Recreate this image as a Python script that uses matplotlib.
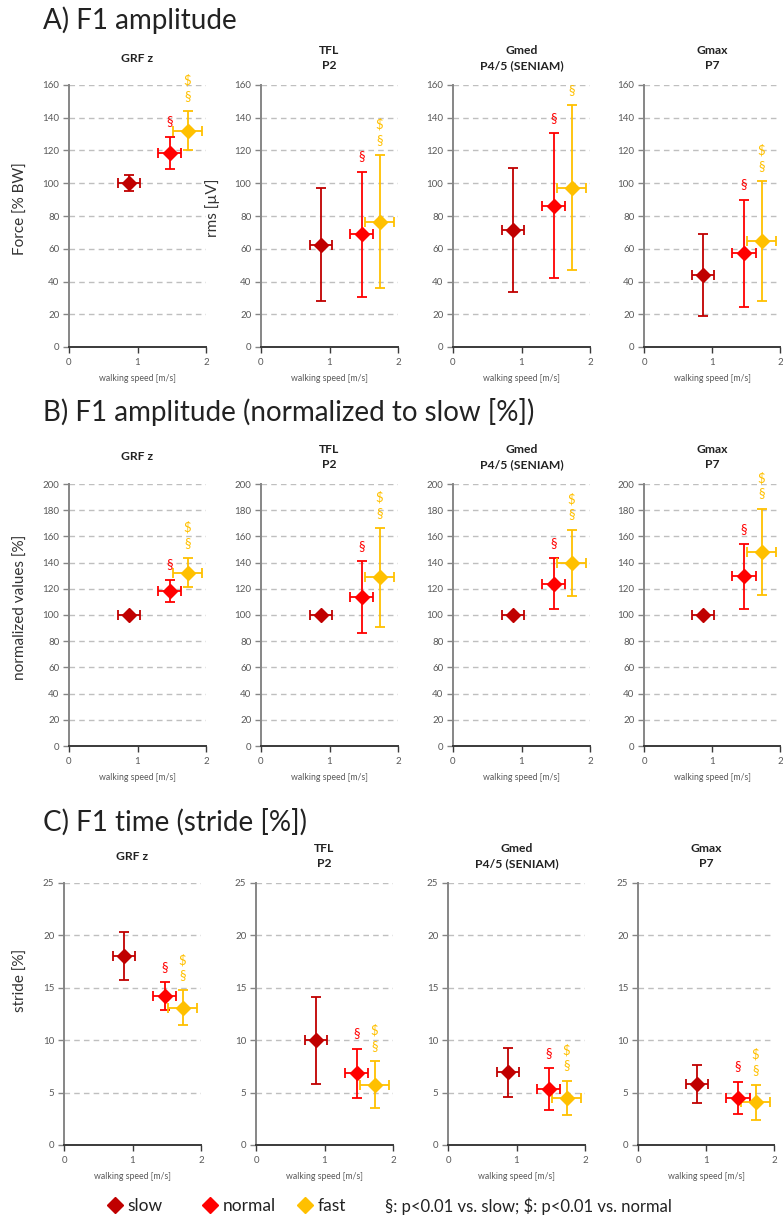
import matplotlib
matplotlib.use("Agg")
import matplotlib.pyplot as plt
from matplotlib.lines import Line2D

plt.rcParams['font.family'] = ['Lato', 'DejaVu Sans']

# walking speed per condition (same in every panel)
conditions = ["slow", "normal", "fast"]
speed = [0.87, 1.47, 1.73]
speed_sd = [0.16, 0.17, 0.21]
colors = ["#C00000", "#FF0000", "#FFC000"]

panel_titles = ["GRF z", "TFL\nP2", "Gmed\nP4/5 (SENIAM)", "Gmax\nP7"]

# A) F1 amplitude  (rows = panels, cols = slow/normal/fast)
amp_mean = [[100, 118.6, 132.0], [62.4, 68.9, 76.6], [71.3, 86.2, 97.4], [44.2, 57.1, 64.6]]
amp_sd = [[4.9, 9.9, 12.0], [34.6, 38.1, 40.5], [37.9, 44.2, 50.2], [25.0, 32.9, 36.7]]
amp_fast_sig = ["§$", "§$", "§", "§$"]

# B) F1 amplitude normalized to slow
norm_mean = [[100, 118.5, 132.2], [100, 113.4, 128.7], [100, 124.0, 140.0], [100, 129.4, 148.3]]
norm_sd = [[0, 8.4, 11.2], [0, 27.5, 37.5], [0, 19.5, 25.2], [0, 24.5, 32.9]]
norm_fast_sig = ["§$", "§$", "§$", "§$"]

# C) F1 time (stride %)
time_mean = [[18.0, 14.2, 13.1], [10.0, 6.84, 5.76], [6.93, 5.34, 4.5], [5.8, 4.5, 4.07]]
time_sd = [[2.3, 1.35, 1.65], [4.15, 2.35, 2.25], [2.35, 2.0, 1.65], [1.8, 1.55, 1.65]]
time_fast_sig = ["§$", "§$", "§$", "§$"]

W, H = 783, 1217
fig = plt.figure(figsize=(W / 100, H / 100), dpi=100)

rows = [
    dict(title="A) F1 amplitude", title_y=20, top=85, bottom=347, lefts=[69, 261, 453, 644],
         mean=amp_mean, sd=amp_sd, fast_sig=amp_fast_sig, ymax=160, ystep=20,
         ylabels={0: "Force [% BW]", 1: "rms [µV]"}, ylab_y=0.53, ylab_dx=41),
    dict(title="B) F1 amplitude (normalized to slow [%])", title_y=412, top=484, bottom=746,
         lefts=[69, 261, 453, 644], mean=norm_mean, sd=norm_sd, fast_sig=norm_fast_sig,
         ymax=200, ystep=20, ylabels={0: "normalized values [%]"}, ylab_y=0.53, ylab_dx=41),
    dict(title="C) F1 time (stride [%])", title_y=822, top=883, bottom=1145,
         lefts=[64, 256, 448, 638], mean=time_mean, sd=time_sd, fast_sig=time_fast_sig,
         ymax=25, ystep=5, ylabels={0: "stride [%]"}, ylab_y=0.63, ylab_dx=36),
]

tick_col = "#595959"

for row in rows:
    fig.text(43 / W, 1 - row["title_y"] / H, row["title"], fontsize=20, va="center", ha="left",
             color="#222222")
    for p, left in enumerate(row["lefts"]):
        width = 137 if left < 600 else 136
        ax = fig.add_axes([left / W, 1 - row["bottom"] / H, width / W, (row["bottom"] - row["top"]) / H])
        ax.set_xlim(0, 2)
        ax.set_ylim(0, row["ymax"])
        ax.set_yticks(range(0, row["ymax"] + 1, row["ystep"]))
        ax.set_xticks([0, 1, 2])
        ax.yaxis.grid(True, linestyle=(0, (4, 3)), color="#BFBFBF", linewidth=1)
        ax.set_axisbelow(True)
        for s in ["top", "right"]:
            ax.spines[s].set_visible(False)
        ax.spines["left"].set_color("#868686")
        ax.spines["left"].set_linewidth(1.4)
        ax.spines["bottom"].set_color("#3A3A3A")
        ax.spines["bottom"].set_linewidth(1.4)
        ax.tick_params(axis="y", length=4, width=1, color="#868686", labelsize=7,
                       labelcolor=tick_col, pad=3)
        ax.tick_params(axis="x", length=4, width=1, color="#3A3A3A", labelsize=7,
                       labelcolor=tick_col, pad=4)
        ax.set_xlabel("walking speed [m/s]", fontsize=6.3, color=tick_col, labelpad=5)
        if p in row["ylabels"]:
            ax.set_ylabel(row["ylabels"][p], fontsize=11, color="#333333")
            ax.yaxis.set_label_coords(-row["ylab_dx"] / width, row["ylab_y"])
        ax.text(0.5, 1 + 27 / (row["bottom"] - row["top"]), panel_titles[p], transform=ax.transAxes,
                ha="center", va="center", fontsize=8.7, fontweight="bold", color="#222222",
                linespacing=1.4)

        means = row["mean"][p]
        sds = row["sd"][p]
        for i in range(3):
            ax.errorbar(speed[i], means[i], xerr=speed_sd[i], yerr=sds[i] if sds[i] > 0 else None,
                        fmt="D", color=colors[i], markersize=7, elinewidth=1.3, capsize=3.5,
                        capthick=1.3, zorder=3)
        # significance marks
        top_n = means[1] + sds[1]
        ax.annotate("§", (speed[1], top_n), xytext=(0, 11), textcoords="offset points",
                    ha="center", va="center", fontsize=9.5, color=colors[1], annotation_clip=False)
        top_f = means[2] + sds[2]
        for k, sym in enumerate(row["fast_sig"][p]):
            ax.annotate(sym.replace("$", r"\$"), (speed[2], top_f), xytext=(0, 11 + 11 * k),
                        textcoords="offset points", ha="center", va="center", fontsize=9.5,
                        color=colors[2], annotation_clip=False)

# legend entries placed one by one at the reference marker positions
legend_x = [115, 210, 305]
for c, lab, x in zip(colors, conditions, legend_x):
    h = Line2D([], [], marker="D", linestyle="none", color=c, markersize=8.5)
    fig.legend([h], [lab], loc="center left", bbox_to_anchor=((x - 9) / W, 1 - 1206 / H),
               frameon=False, fontsize=12.5, handletextpad=0.25, handlelength=1.0,
               borderpad=0, borderaxespad=0, labelcolor="#222222")
fig.text(385 / W, 1 - 1206 / H, r"§: p<0.01 vs. slow; \$: p<0.01 vs. normal", fontsize=12,
         va="center", ha="left", color="#222222")

fig.savefig("out.png", dpi=100)
